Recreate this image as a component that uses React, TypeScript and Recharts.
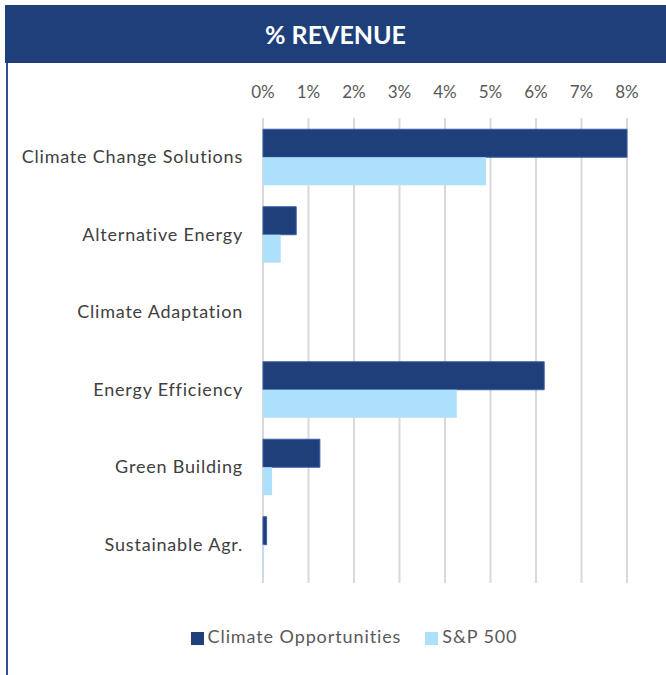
import { BarChart, Bar, XAxis, YAxis, CartesianGrid, Legend } from "recharts";

const categories = [
  "Climate Change Solutions",
  "Alternative Energy",
  "Climate Adaptation",
  "Energy Efficiency",
  "Green Building",
  "Sustainable Agr.",
];
const climateOpportunities = [8.0, 0.73, 0, 6.18, 1.25, 0.08];
const sp500 = [4.9, 0.39, 0, 4.26, 0.2, 0.02];
const xTicks = [0, 1, 2, 3, 4, 5, 6, 7, 8];

const data = categories.map((name, i) => ({
  name,
  climate: climateOpportunities[i],
  sp: sp500[i],
}));

const FONT = "Lato, 'Open Sans', sans-serif";
const DARK = "#1F3F7A";
const LIGHT = "#ADE1FB";

export default function App() {
  return (
    <div style={{ position: "absolute", left: 0, top: 0, width: 666, height: 675, background: "#fff", fontFamily: FONT, overflow: "hidden" }}>
      {/* header band */}
      <div
        style={{
          position: "absolute", left: 5, top: 5, width: 661, height: 58, background: DARK,
          color: "#fff", fontWeight: 700, fontSize: 25, display: "flex", alignItems: "center", justifyContent: "center",
        }}
      >
        % REVENUE
      </div>
      {/* left frame line */}
      <div style={{ position: "absolute", left: 6, top: 63, width: 2, height: 612, background: "#2E5295" }} />

      <div style={{ position: "absolute", left: 0, top: 0 }}>
        <BarChart
          width={666}
          height={675}
          data={data}
          layout="vertical"
          margin={{ top: 88, right: 39, bottom: 70, left: 0 }}
          barCategoryGap="14.5%"
          barGap={0}
        >
          <CartesianGrid horizontal={false} stroke="#D9D9D9" strokeWidth={2} />
          <XAxis
            type="number"
            orientation="top"
            domain={[0, 8]}
            ticks={xTicks}
            tickFormatter={(v) => `${v}%`}
            axisLine={false}
            tickLine={false}
            height={30}
            tickMargin={14}
            tick={{ fill: "#595959", fontSize: 17, fontFamily: FONT }}
          />
          <YAxis
            type="category"
            dataKey="name"
            width={263}
            axisLine={false}
            tickLine={false}
            tickMargin={14}
            tick={{ fill: "#404040", fontSize: 18, fontFamily: FONT, letterSpacing: 0.8 }}
          />
          <Legend
            verticalAlign="bottom"
            iconType="square"
            iconSize={13}
            wrapperStyle={{ left: 136, width: 460, top: 625, fontSize: 18, fontFamily: FONT }}
            formatter={(value) => (
              <span style={{ color: "#595959", letterSpacing: 0.9, marginRight: 14 }}>{value}</span>
            )}
          />
          <Bar dataKey="climate" name="Climate Opportunities" fill={DARK} stroke="#3A5FA8" strokeWidth={1} isAnimationActive={false} />
          <Bar dataKey="sp" name="S&P 500" fill={LIGHT} isAnimationActive={false} />
        </BarChart>
      </div>
    </div>
  );
}
